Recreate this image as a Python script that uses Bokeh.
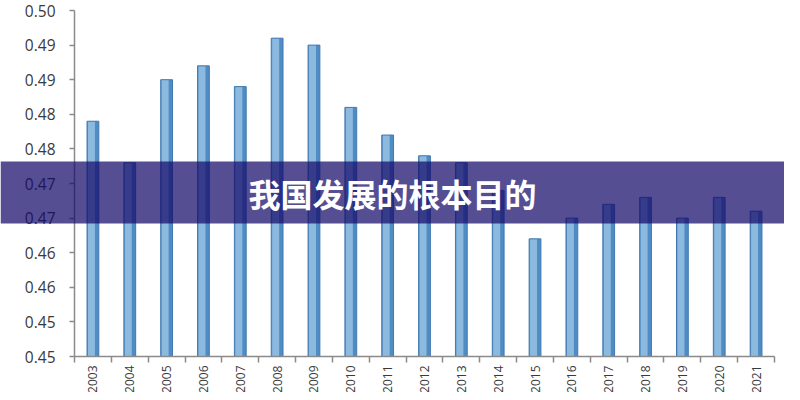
import math
from bokeh.plotting import figure
from bokeh.models import FixedTicker, BoxAnnotation, Label, ColumnDataSource, Range1d, LinearAxis
from bokeh.transform import dodge
from bokeh.embed import file_html
from bokeh.resources import INLINE

# ---- data ----
years = ["2003", "2004", "2005", "2006", "2007", "2008", "2009", "2010", "2011",
         "2012", "2013", "2014", "2015", "2016", "2017", "2018", "2019", "2020", "2021"]
gini = [0.479, 0.473, 0.485, 0.487, 0.484, 0.491, 0.490, 0.481, 0.477,
        0.474, 0.473, 0.469, 0.462, 0.465, 0.467, 0.468, 0.465, 0.468, 0.466]
y_ticks = [0.445, 0.450, 0.455, 0.460, 0.465, 0.470, 0.475, 0.480, 0.485, 0.490, 0.495]
y_tick_labels = ["0.45", "0.45", "0.46", "0.46", "0.47", "0.47", "0.48", "0.48", "0.49", "0.49", "0.50"]
banner_text = "我国发展的根本目的"
y_min, y_max = 0.445, 0.495

# ---- layout (pixels) ----
W, H = 784, 392
frame_left_px, frame_right_px = 74, 774      # where the category axis starts / ends
axis_bottom_px, axis_top_px = 356, 10        # y of 0.445 and 0.495 from the top
n = len(years)
ppu_x = (frame_right_px - frame_left_px) / n
x0 = -0.5 - frame_left_px / ppu_x
x1 = n - 0.5 + (W - frame_right_px) / ppu_x
ppu_y = (axis_bottom_px - axis_top_px) / (y_max - y_min)
y0 = y_min - (H - axis_bottom_px) / ppu_y
y1 = y_max + axis_top_px / ppu_y

def y_at(px):
    return y_min + (axis_bottom_px - px) / ppu_y

banner_top, banner_bottom, banner_mid = y_at(161), y_at(223), y_at(192.5)
banner_x = -0.5 + (392 - frame_left_px) / ppu_x

xs = list(range(n))
src = ColumnDataSource(dict(x=xs, top=gini))

p = figure(width=W, height=H, output_backend="svg", toolbar_location=None,
           x_range=Range1d(x0, x1), y_range=Range1d(y0, y1),
           x_axis_location=None, y_axis_location=None,
           min_border=0)
p.outline_line_color = None
p.grid.visible = False
p.background_fill_color = "white"
p.border_fill_color = "white"

# bars: darker body, lighter left highlight, outline
p.vbar(x="x", top="top", bottom=y_min, width=0.32, source=src,
       fill_color="#4f8cc4", line_color=None)
p.vbar(x=dodge("x", -0.04), top="top", bottom=y_min, width=0.19, source=src,
       fill_color="#8cbadf", line_color=None)
p.vbar(x="x", top="top", bottom=y_min, width=0.32, source=src,
       fill_color=None, line_color="#4279b0", line_width=1)

axis_col = "#8a8a8a"
lab_col = "#3a3a3a"

# x axis
xaxis = LinearAxis(fixed_location=y_min, bounds=(-0.5, n - 0.5))
xaxis.ticker = FixedTicker(ticks=xs, minor_ticks=[i - 0.5 for i in range(n + 1)])
xaxis.major_label_overrides = {i: y for i, y in enumerate(years)}
xaxis.major_label_orientation = math.pi / 2
xaxis.major_tick_out = 0
xaxis.major_tick_in = 0
xaxis.minor_tick_out = 6
xaxis.minor_tick_in = 0
xaxis.major_label_standoff = 3
xaxis.major_label_text_font = "Open Sans"
xaxis.major_label_text_font_size = "12px"
xaxis.major_label_text_color = lab_col
xaxis.axis_line_color = axis_col
xaxis.axis_line_width = 1.5
xaxis.minor_tick_line_color = axis_col
xaxis.minor_tick_line_width = 1.5
p.add_layout(xaxis, "below")

# y axis
yaxis = LinearAxis(fixed_location=-0.5, bounds=(y_min, y_max))
yaxis.ticker = FixedTicker(ticks=y_ticks, minor_ticks=[])
yaxis.major_label_overrides = dict(zip(y_ticks, y_tick_labels))
yaxis.major_tick_out = 5
yaxis.major_tick_in = 0
yaxis.minor_tick_out = 0
yaxis.minor_tick_in = 0
yaxis.major_label_standoff = 14
yaxis.major_label_text_font = "Open Sans"
yaxis.major_label_text_font_size = "15.5px"
yaxis.major_label_text_color = lab_col
yaxis.axis_line_color = axis_col
yaxis.axis_line_width = 1.5
yaxis.major_tick_line_color = axis_col
yaxis.major_tick_line_width = 1.5
p.add_layout(yaxis, "left")

# banner overlay
banner = BoxAnnotation(bottom=banner_bottom, top=banner_top,
                       fill_color="#150a6a", fill_alpha=0.72, line_color=None, level="overlay")
p.add_layout(banner)
title = Label(x=banner_x, y=banner_mid, text=banner_text, text_font="Noto Sans CJK SC",
              text_font_style="bold", text_font_size="32px", text_color="white",
              text_align="center", text_baseline="middle", level="overlay")
p.add_layout(title)

open("out.html", "w").write(file_html(p, INLINE))
